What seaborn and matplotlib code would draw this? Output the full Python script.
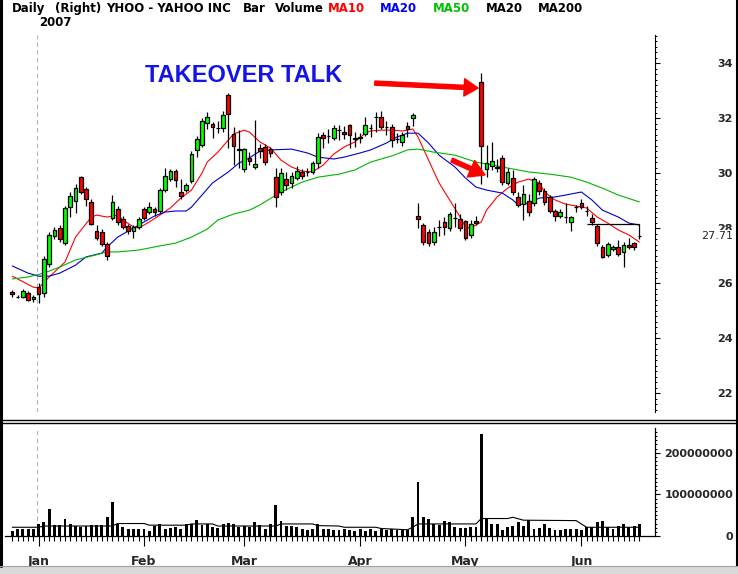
import numpy as np
import pandas as pd
import seaborn as sns
import matplotlib.pyplot as plt
from matplotlib.patches import Rectangle
from matplotlib.ticker import MultipleLocator, FixedLocator
from matplotlib.transforms import blended_transform_factory

# daily bars, 22 Dec 2006 .. 18 Jun 2007
opens = [25.68, 25.50, 25.49, 25.64, 25.42, 25.85, 25.64, 26.69, 27.71, 28.00,
         27.45, 28.76, 28.98, 29.85, 29.42, 28.95, 27.89, 27.85, 27.42, 28.36,
         28.69, 28.33, 28.07, 27.89, 28.04, 28.69, 28.58, 28.69, 28.62, 29.38,
         29.78, 30.07, 29.31, 29.38, 29.71, 30.84, 31.02, 31.82, 31.78, 31.64,
         31.64, 32.84, 31.42, 30.87, 30.15, 30.55, 30.22, 30.91, 30.95, 30.87,
         29.85, 29.31, 29.78, 29.64, 29.82, 30.04, 30.04, 30.04, 30.36, 31.38,
         31.35, 31.27, 31.56, 31.49, 31.75, 31.24, 31.27, 31.42, 31.64, 32.04,
         32.04, 31.67, 31.67, 31.24, 31.13, 31.71, 32.00, 28.44, 28.11, 27.85,
         27.49, 28.04, 28.22, 28.00, 28.36, 28.33, 28.25, 27.75, 28.25, 33.31,
         30.15, 30.25, 30.22, 30.55, 29.64, 29.82, 29.13, 28.87, 28.98, 28.91,
         29.64, 29.35, 29.13, 28.62, 28.44, 28.40, 28.22, 28.76, 28.91, 28.62,
         28.36, 28.07, 27.31, 27.02, 27.24, 27.31, 27.13, 27.38, 27.45, 27.71]
highs = [25.75, 25.56, 25.78, 25.70, 25.56, 26.00, 27.00, 27.85, 28.05, 28.10,
         28.80, 29.30, 29.60, 29.90, 29.50, 29.05, 28.10, 27.95, 27.50, 29.20,
         28.80, 28.45, 28.15, 28.10, 28.40, 28.75, 28.95, 28.75, 29.45, 30.18,
         30.15, 30.15, 29.78, 29.65, 30.80, 31.35, 32.00, 32.22, 31.85, 31.90,
         32.25, 32.90, 31.67, 31.56, 30.90, 30.75, 31.93, 31.05, 31.05, 30.95,
         30.18, 30.20, 30.05, 30.05, 30.25, 30.15, 30.20, 30.45, 31.45, 31.50,
         31.60, 31.75, 31.75, 31.70, 31.80, 31.50, 31.45, 32.05, 31.80, 32.22,
         32.25, 31.90, 31.80, 31.45, 31.50, 31.85, 32.20, 28.91, 28.20, 27.95,
         28.05, 28.30, 28.40, 28.60, 28.91, 28.50, 28.30, 28.30, 28.45, 33.64,
         31.02, 31.14, 30.50, 30.65, 30.20, 30.10, 29.30, 29.55, 29.25, 29.85,
         29.75, 29.45, 29.20, 28.70, 28.70, 28.90, 28.45, 28.85, 29.05, 28.80,
         28.50, 28.15, 27.40, 27.50, 27.38, 27.55, 27.50, 27.65, 27.50, 28.15]
lows = [25.50, 25.44, 25.45, 25.33, 25.30, 25.27, 25.50, 26.60, 27.60, 27.50,
        27.40, 28.40, 28.55, 29.25, 28.80, 28.10, 27.55, 27.35, 26.85, 28.30,
        28.10, 27.95, 27.80, 27.64, 27.95, 28.30, 28.50, 28.45, 28.55, 29.30,
        29.70, 29.50, 29.05, 29.30, 29.65, 30.60, 30.95, 31.60, 31.27, 31.45,
        31.50, 30.91, 30.29, 30.18, 30.05, 30.30, 30.15, 30.55, 30.30, 30.60,
        28.76, 29.20, 29.40, 29.45, 29.75, 29.80, 29.90, 29.95, 30.20, 30.90,
        31.10, 31.20, 31.20, 31.25, 30.90, 30.95, 31.10, 31.35, 31.30, 31.49,
        31.60, 31.40, 30.95, 31.10, 31.00, 31.30, 31.71, 28.00, 27.40, 27.35,
        27.40, 27.70, 27.75, 27.90, 28.05, 27.90, 27.55, 27.65, 28.10, 29.60,
        29.85, 30.10, 30.05, 29.55, 29.55, 29.20, 28.75, 28.30, 28.45, 28.80,
        29.20, 28.85, 28.55, 28.25, 28.35, 28.20, 27.90, 28.60, 28.70, 28.45,
        28.10, 27.35, 26.90, 26.95, 27.15, 26.98, 26.58, 27.25, 27.20, 27.60]
closes = [25.60, 25.49, 25.71, 25.38, 25.49, 25.60, 26.87, 27.75, 27.93, 27.60,
          28.73, 29.16, 29.45, 29.31, 29.05, 28.15, 27.64, 27.42, 26.98, 28.95,
          28.22, 28.04, 27.89, 28.04, 28.33, 28.36, 28.76, 28.58, 29.38, 29.89,
          30.07, 29.75, 29.16, 29.56, 30.69, 31.24, 31.89, 32.04, 31.67, 31.62,
          32.11, 32.15, 30.98, 30.84, 30.87, 30.44, 30.33, 30.80, 30.40, 30.73,
          29.13, 30.00, 29.56, 29.89, 30.07, 29.89, 30.05, 30.36, 31.31, 31.27,
          31.36, 31.64, 31.58, 31.42, 31.38, 31.27, 31.31, 31.75, 31.65, 32.02,
          31.67, 31.69, 31.20, 31.22, 31.38, 31.60, 32.11, 28.33, 27.49, 27.45,
          27.85, 28.05, 28.04, 28.51, 28.38, 28.00, 27.64, 28.15, 28.18, 30.98,
          30.36, 30.44, 30.20, 29.67, 30.04, 29.31, 28.84, 29.24, 28.58, 29.78,
          29.35, 28.95, 28.62, 28.44, 28.58, 28.41, 28.40, 28.77, 28.76, 28.63,
          28.22, 27.45, 26.95, 27.42, 27.31, 27.05, 27.38, 27.31, 27.31, 27.71]
# volume in millions of shares
volumes = [12, 16, 16, 16, 16, 29, 34, 65, 26, 26,
           41, 29, 24, 21, 25, 26, 26, 26, 46, 82,
           29, 21, 16, 16, 18, 16, 13, 24, 30, 18,
           20, 21, 18, 30, 28, 38, 26, 29, 21, 19,
           28, 32, 28, 21, 24, 21, 34, 26, 18, 30,
           74, 36, 24, 24, 21, 16, 14, 16, 29, 16,
           16, 14, 14, 18, 14, 12, 16, 12, 16, 12,
           16, 14, 18, 14, 14, 14, 46, 130, 46, 41,
           29, 26, 36, 34, 21, 19, 19, 21, 22, 244,
           42, 29, 29, 14, 21, 24, 34, 24, 38, 18,
           19, 29, 19, 14, 14, 16, 16, 16, 14, 21,
           21, 34, 36, 21, 18, 24, 30, 21, 24, 29]

# moving averages sampled off the chart (bar index, value)
ma10_idx = [0, 4, 5, 7, 10, 12, 15, 16, 18, 20, 21, 23, 24, 26, 28, 30, 32, 34, 36, 37,
            39, 41, 42, 44, 45, 47, 49, 51, 53, 55, 57, 59, 61, 63, 65, 67, 68, 70, 72, 74,
            76, 77, 79, 81, 83, 85, 86, 87, 89, 90, 92, 94, 96, 98, 100, 101, 103, 105, 107, 109,
            111, 113, 115, 117, 119]
ma10_val = [26.25, 25.85, 25.82, 26.22, 26.76, 27.67, 28.40, 28.47, 28.40, 28.47,
            28.29, 28.04, 28.00, 28.22, 28.47, 28.73, 29.09, 29.38, 30.00, 30.40,
            30.76, 31.20, 31.42, 31.56, 31.49, 31.13, 30.91, 30.47, 30.22, 30.07,
            30.04, 30.29, 30.69, 30.95, 31.13, 31.45, 31.53, 31.56, 31.56, 31.53,
            31.60, 31.31, 30.47, 29.64, 29.02, 28.40, 28.04, 28.00, 28.22, 28.65,
            29.13, 29.45, 29.67, 29.78, 29.64, 29.31, 29.02, 28.87, 28.80, 28.73,
            28.40, 28.18, 27.93, 27.75, 27.49]
ma20_idx = [0, 3, 5, 7, 9, 12, 14, 17, 18, 20, 23, 25, 27, 29, 31, 33, 34, 36, 38, 41,
            43, 45, 47, 49, 53, 56, 58, 61, 63, 66, 68, 71, 73, 75, 77, 79, 81, 84, 86, 88,
            90, 93, 95, 96, 98, 100, 103, 105, 108, 110, 112, 115, 117, 119]
ma20_val = [26.62, 26.36, 26.25, 26.25, 26.36, 26.65, 26.95, 27.09, 27.31, 27.67,
            28.00, 28.22, 28.44, 28.58, 28.62, 28.62, 28.76, 29.20, 29.64, 30.04,
            30.36, 30.55, 30.80, 30.84, 30.87, 30.73, 30.58, 30.51, 30.58, 30.73,
            30.84, 31.09, 31.31, 31.45, 31.45, 31.09, 30.65, 30.22, 29.82, 29.49,
            29.38, 29.27, 29.02, 28.84, 28.91, 29.09, 29.13, 29.20, 29.31, 29.02,
            28.65, 28.40, 28.18, 28.11]
ma50_idx = [0, 3, 6, 9, 12, 15, 18, 20, 24, 28, 31, 34, 37, 39, 42, 45, 47, 51, 55, 58,
            62, 65, 68, 72, 75, 77, 80, 84, 88, 93, 98, 102, 106, 109, 112, 115, 119]
ma50_val = [26.15, 26.22, 26.36, 26.58, 26.84, 26.98, 27.13, 27.13, 27.20, 27.35,
            27.45, 27.67, 27.96, 28.29, 28.51, 28.65, 28.84, 29.31, 29.67, 29.85,
            29.96, 30.11, 30.40, 30.62, 30.84, 30.87, 30.76, 30.65, 30.40, 30.22,
            30.04, 29.96, 29.85, 29.67, 29.45, 29.20, 28.95]
vma_idx = [0, 5, 6, 19, 20, 25, 26, 33, 34, 38, 39, 50, 51, 57, 58, 62, 63, 69, 70, 75,
           76, 77, 88, 89, 94, 95, 97, 107, 109, 119]
vma_val = [21, 21, 24, 24, 30, 30, 26, 26, 29, 29, 24, 24, 29, 29, 25, 24, 21, 21, 18, 15,
           21, 29, 29, 42, 42, 45, 38, 37, 21, 21]

ref_level = 28.15
ref_span = (109, 119)

month_idx = [5, 25, 44, 66, 86, 108]
month_labels = ["Jan", "Feb", "Mar", "Apr", "May", "Jun"]
price_ticks = [22, 24, 26, 28, 30, 32, 34]
vol_ticks = [0, 100000000, 200000000]

W, H = 738, 574


def px_box(x0, y0, x1, y1):
    return [x0 / W, 1 - y1 / H, (x1 - x0) / W, (y1 - y0) / H]


sns.set_style("white")
plt.rcParams['font.family'] = ['DejaVu Sans']

df = pd.DataFrame({"open": opens, "high": highs, "low": lows, "close": closes,
                   "volume": np.array(volumes) * 1e6})
idx = np.arange(len(df))
up = df["close"] >= df["open"]

fig = plt.figure(figsize=(W / 100, H / 100), dpi=100)
ax = fig.add_axes(px_box(5, 35, 655, 412))
axv = fig.add_axes(px_box(5, 428, 655, 536))
xlim = (-1.38, 121.97)

# moving averages
sns.lineplot(x=ma10_idx, y=ma10_val, ax=ax, color="#ff0000", lw=0.8, zorder=2)
sns.lineplot(x=ma20_idx, y=ma20_val, ax=ax, color="#0000c8", lw=0.8, zorder=2)
sns.lineplot(x=ma50_idx, y=ma50_val, ax=ax, color="#00b400", lw=0.8, zorder=2)

# candles
ax.vlines(idx, df["low"], df["high"], color="black", lw=0.9, zorder=3)
ax.bar(idx, (df["close"] - df["open"]).abs(), bottom=np.minimum(df["open"], df["close"]),
       width=0.7, color=np.where(up, "#00ff00", "#ff0000"), edgecolor="black",
       linewidth=0.9, zorder=4)
ax.hlines(ref_level, *ref_span, color="black", lw=0.9, zorder=3)
ax.axvline(4.75, color="#b4b4b4", lw=0.8, ls=(0, (4, 3)), zorder=1)

ax.set_xlim(*xlim)
ax.set_ylim(21.31, 35.02)
ax.set_xticks([])
ax.set_xlabel("")
ax.set_ylabel("")
for s in ["left", "top", "bottom"]:
    ax.spines[s].set_visible(False)
ax.spines["right"].set_color("black")
ax.spines["right"].set_linewidth(0.8)
ax.yaxis.tick_right()
ax.set_yticks(price_ticks, labels=[str(t) for t in price_ticks])
ax.yaxis.set_minor_locator(MultipleLocator(0.2))
ax.tick_params(axis="y", which="major", right=True, left=False, length=3.6, width=0.8,
               color="black", direction="out", labelsize=8, pad=52.6)
ax.tick_params(axis="y", which="minor", right=True, left=False, length=1.4, width=0.7,
               color="black", direction="out")
plt.setp(ax.get_yticklabels(), ha="right", fontweight="bold")

# last price tag, drawn over the 28 label as in the source chart
tr = blended_transform_factory(ax.transAxes, ax.transData)
ax.text((733 - 5) / 650, closes[-1], f"{closes[-1]:.2f}", transform=tr, ha="right",
        va="center", fontsize=8, clip_on=False,
        bbox=dict(facecolor="white", edgecolor="none", pad=0.6))

# arrows
ax.annotate("", xy=(88.4, 33.09), xytext=(68.8, 33.27),
            arrowprops=dict(arrowstyle="simple,head_length=1.0,head_width=1.25,tail_width=0.3",
                            color="#ff0000", mutation_scale=10, shrinkA=0, shrinkB=0))
ax.annotate("", xy=(89.7, 29.93), xytext=(83.4, 30.47),
            arrowprops=dict(arrowstyle="simple,head_length=1.1,head_width=1.3,tail_width=0.3",
                            color="#ff0000", mutation_scale=10, shrinkA=0, shrinkB=0))

# volume
sns.barplot(x=idx, y=df["volume"], ax=axv, color="black", width=0.55, saturation=1,
            errorbar=None, edgecolor="black", linewidth=0, zorder=3)
sns.lineplot(x=vma_idx, y=np.array(vma_val) * 1e6, ax=axv, color="black", lw=0.8, zorder=4)
axv.axvline(4.75, color="#b4b4b4", lw=0.8, ls=(0, (4, 3)), zorder=1)
axv.set_xlim(*xlim)
axv.set_ylim(0, 259.6e6)
axv.set_xlabel("")
axv.set_ylabel("")
for s in ["left", "top"]:
    axv.spines[s].set_visible(False)
for s in ["right", "bottom"]:
    axv.spines[s].set_color("black")
    axv.spines[s].set_linewidth(0.9)
axv.yaxis.tick_right()
axv.set_yticks(vol_ticks, labels=[str(t) for t in vol_ticks])
axv.yaxis.set_minor_locator(MultipleLocator(1e7))
axv.tick_params(axis="y", which="major", right=True, left=False, length=3.6, width=0.8,
                color="black", direction="out", labelsize=8, pad=52.6)
axv.tick_params(axis="y", which="minor", right=True, left=False, length=1.4, width=0.7,
                color="black", direction="out")
plt.setp(axv.get_yticklabels(), ha="right", fontweight="bold")
axv.set_xticks(month_idx, labels=month_labels)
axv.xaxis.set_minor_locator(FixedLocator(idx))
axv.tick_params(axis="x", which="major", bottom=True, length=7, width=0.8, color="black",
                direction="out", labelsize=9, pad=7)
axv.tick_params(axis="x", which="minor", bottom=True, length=3.5, width=0.8, color="black",
                direction="out")
plt.setp(axv.get_xticklabels(), fontweight="bold")

# frame, header and annotation text
bg = fig.add_axes([0, 0, 1, 1])
bg.set_xlim(0, W)
bg.set_ylim(H, 0)
bg.axis("off")
bg.plot([1, 1], [0, 566], color="black", lw=2.2)
bg.plot([736.5, 736.5], [0, 566], color="black", lw=1.5)
bg.plot([0, W], [419.5, 419.5], color="black", lw=1)
bg.plot([0, W], [422.5, 422.5], color="black", lw=1)
bg.add_patch(Rectangle((0, 566), W, 8, facecolor="#d9d9d9", edgecolor="none"))
bg.plot([0, W], [566, 566], color="#a0a0a0", lw=0.8)

header = [("Daily", 12, "black"), ("(Right)", 55, "black"), ("YHOO - YAHOO INC", 106, "black"),
          ("Bar", 243, "black"), ("Volume", 275, "black"), ("MA10", 328, "#ff0000"),
          ("MA20", 380, "#0000ff"), ("MA50", 433, "#00c000"), ("MA20", 486, "black"),
          ("MA200", 538, "black")]
for txt, x, col in header:
    bg.text(x, 8.5, txt, color=col, fontsize=8.5, fontweight="bold", ha="left", va="center")
bg.text(39, 22.5, "2007", color="black", fontsize=8.5, fontweight="bold", ha="left", va="center")
bg.text(145, 75, "TAKEOVER TALK", color="#1414e6", fontsize=17, fontweight="bold",
        family=["Liberation Sans", "DejaVu Sans"], ha="left", va="center")

fig.savefig("out.png", dpi=100)
